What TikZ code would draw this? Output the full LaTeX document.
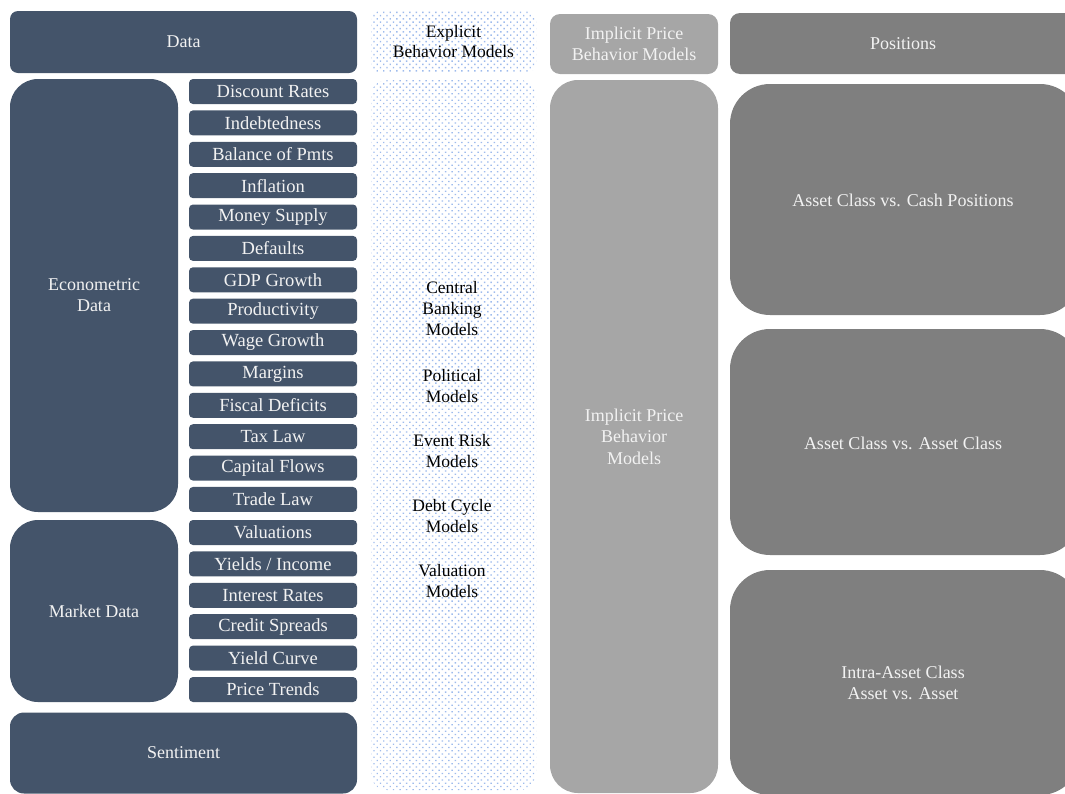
\documentclass[tikz,border=0pt]{standalone}
\usepackage{fontspec}
\setmainfont{Liberation Serif}
\usetikzlibrary{patterns.meta}
\definecolor{dk}{HTML}{44546A}
\definecolor{imp}{HTML}{A6A6A6}
\definecolor{pos}{HTML}{7F7F7F}
\definecolor{wt}{HTML}{F2F2F2}
\definecolor{dotc}{HTML}{9EBBEC}
\begin{document}
\begin{tikzpicture}[x=1pt,y=-1pt,
  every node/.style={inner sep=0pt, outer sep=0pt, align=center},
  dkbox/.style={fill=dk, text=wt, rounded corners=8pt, font=\fontsize{18}{21}\selectfont},
  smallbox/.style={dkbox, minimum width=168pt, minimum height=25pt, rounded corners=4pt, font=\fontsize{18.5}{20}\selectfont},
  bigbox/.style={dkbox, rounded corners=28pt},
  dotbox/.style={pattern={Dots[distance=4.6pt, radius=0.95pt, angle=45]}, pattern color=dotc, text=black, font=\fontsize{17.5}{20}\selectfont},
  impbox/.style={fill=imp, text=wt, font=\fontsize{18}{21.5}\selectfont},
  posbox/.style={fill=pos, text=wt, font=\fontsize{18}{21.5}\selectfont},
  lbl/.style={text=black, font=\fontsize{17.5}{21}\selectfont},
  wlbl/.style={text=wt, font=\fontsize{18}{21.5}\selectfont}
]
\useasboundingbox (0,0) rectangle (1065,793);
\clip (0,0) rectangle (1065,793);
% headers
\node[dkbox, minimum width=347pt, minimum height=62pt] (data) at (183.5,42) {Data};
\node[dotbox, rounded corners=10pt, minimum width=165pt, minimum height=62pt] (explh) at (453.5,42) {Explicit\\Behavior Models};
\node[impbox, rounded corners=10pt, minimum width=168pt, minimum height=60pt] (imph) at (634,44) {Implicit Price\\Behavior Models};
\node[posbox, rounded corners=10pt, minimum width=350pt, minimum height=61pt] (posh) at (905,43.5) {};
\node[wlbl] (posht) at (903,44) {Positions};
% left big boxes
\node[bigbox, minimum width=168pt, minimum height=433pt] (econ) at (94,295.5) {Econometric\\Data};
\node[bigbox, minimum width=168pt, minimum height=182pt] (market) at (94,611) {Market Data};
\node[dkbox, rounded corners=14pt, minimum width=347pt, minimum height=81pt] (sent) at (183.5,753) {Sentiment};
% econ small boxes
\foreach \t [count=\i from 0] in {Discount Rates,Indebtedness,Balance of Pmts,Inflation,Money Supply,Defaults,GDP Growth,Productivity,Wage Growth,Margins,Fiscal Deficits,Tax Law,Capital Flows,Trade Law}{
  \node[smallbox] (e\i) at (273,{91.5+\i*31.38}) {\t};
}
\foreach \t [count=\i from 0] in {Valuations,Yields / Income,Interest Rates,Credit Spreads,Yield Curve,Price Trends}{
  \node[smallbox] (m\i) at (273,{532.5+\i*31.4}) {\t};
}
% explicit body
\node[dotbox, rounded corners=16pt, minimum width=165pt, minimum height=710pt] (explb) at (453.5,435) {};
\node[lbl] (cb) at (452,309) {Central\\Banking\\Models};
\node[lbl] (pm) at (452,386) {Political\\Models};
\node[lbl] (er) at (452,451) {Event Risk\\Models};
\node[lbl] (dc) at (452,516) {Debt Cycle\\Models};
\node[lbl] (vm) at (452,581) {Valuation\\Models};
% implicit body
\node[impbox, rounded corners=28pt, minimum width=168pt, minimum height=713pt] (impb) at (634,436.5) {Implicit Price\\Behavior\\Models};
% positions
\node[posbox, rounded corners=40pt, minimum width=350pt, minimum height=231pt] (p1) at (905,199.5) {};
\node[wlbl] (p1t) at (903,200) {Asset Class vs. Cash Positions};
\node[posbox, rounded corners=40pt, minimum width=350pt, minimum height=226pt] (p2) at (905,442) {};
\node[wlbl] (p2t) at (903,443) {Asset Class vs. Asset Class};
\node[posbox, rounded corners=40pt, minimum width=350pt, minimum height=225pt] (p3) at (905,682.5) {};
\node[wlbl] (p3t) at (903,683) {Intra-Asset Class\\Asset vs. Asset};
\end{tikzpicture}
\end{document}
